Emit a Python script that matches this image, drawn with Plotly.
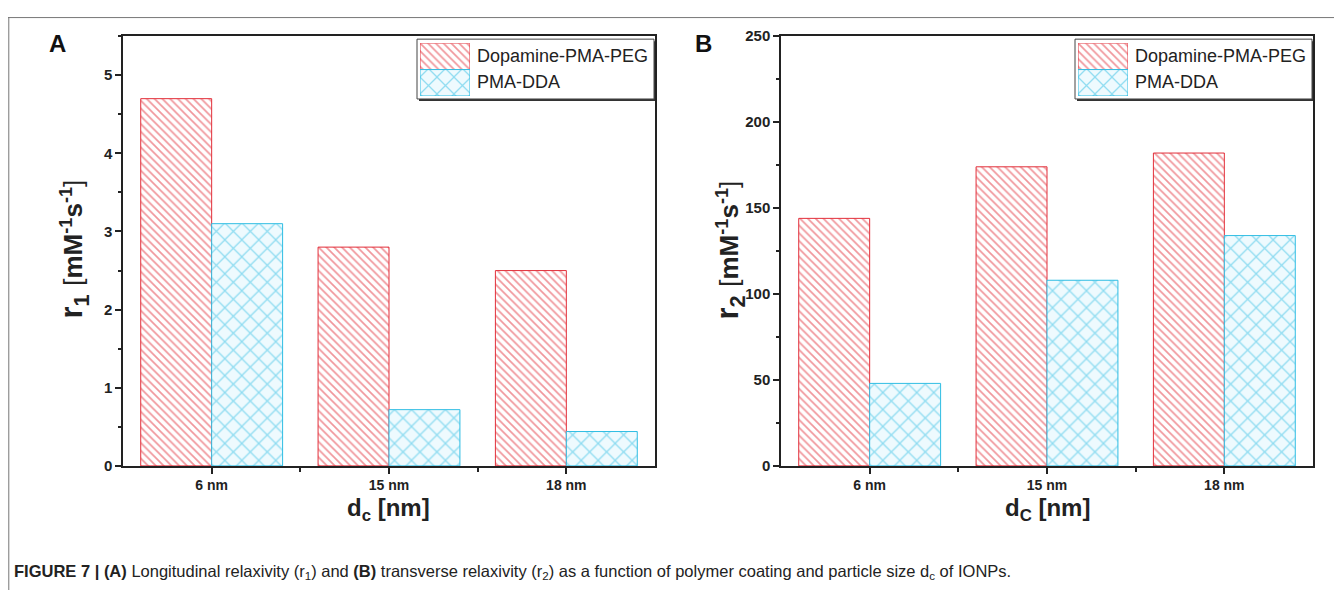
import plotly.graph_objects as go

# The page body has an 8px margin; size the figure so it fits the 1342x606 window exactly.
OFF = 8
W, H = 1342 - 2 * OFF, 606 - 2 * OFF

categories = ["6 nm", "15 nm", "18 nm"]
series_names = ["Dopamine-PMA-PEG", "PMA-DDA"]
r1_dopamine = [4.7, 2.8, 2.5]
r1_pmadda = [3.1, 0.72, 0.44]
r2_dopamine = [144, 174, 182]
r2_pmadda = [48, 108, 134]
r1_ticks = [0, 1, 2, 3, 4, 5]
r2_ticks = [0, 50, 100, 150, 200, 250]

RED = "#e22f3a"
CYAN = "#2fbde3"
FONT = "Liberation Sans, Arial, sans-serif"


def px_x(p):
    return max(0.0, (p - OFF) / W)


def px_y(p):
    # p: vertical page position measured on the reference layout
    t = (p - 8) / 0.974
    return min(1.0, 1 - (t - OFF) / H)


xpos = list(range(len(categories)))

fig = go.Figure()

styles = [
    dict(line=dict(color=RED, width=1),
         pattern=dict(shape="\\", fgcolor=RED, bgcolor="white", size=5.5, solidity=0.32)),
    dict(line=dict(color=CYAN, width=1),
         pattern=dict(shape="x", fgcolor=CYAN, bgcolor="#eefafe", size=12, solidity=0.2)),
]

panels = [
    dict(xa="x", ya="y", data=[r1_dopamine, r1_pmadda]),
    dict(xa="x2", ya="y2", data=[r2_dopamine, r2_pmadda]),
]
for p in panels:
    for name, vals, st in zip(series_names, p["data"], styles):
        fig.add_trace(go.Bar(x=xpos, y=vals, name=name, marker=dict(color="white", **st),
                             xaxis=p["xa"], yaxis=p["ya"], showlegend=False, hoverinfo="y"))

# custom legend swatches (large boxes like the original)
leg_axes = [("x3", "y3"), ("x4", "y4")]
for xa, ya in leg_axes:
    for i, (name, st) in enumerate(zip(series_names, styles)):
        fig.add_trace(go.Bar(x=[1], y=[len(series_names) - 1 - i], orientation="h", width=1,
                             marker=dict(color="white", **st), xaxis=xa, yaxis=ya,
                             showlegend=False, hoverinfo="skip"))

axis_common = dict(showline=True, linecolor="#222", linewidth=1.5, mirror=True,
                   ticks="outside", tickcolor="#222", tickwidth=1.5, ticklen=6,
                   showgrid=False, zeroline=False)
xfont = dict(family=FONT, size=14, color="#222", weight="bold")
yfont = dict(family=FONT, size=15, color="#222", weight="bold")

xdomA = [px_x(123), px_x(655)]
xdomB = [px_x(781), px_x(1313)]
ydom = [px_y(466), px_y(35)]

fig.update_layout(
    width=W, height=H, margin=dict(l=0, r=0, t=0, b=0),
    paper_bgcolor="white", plot_bgcolor="white",
    barmode="group", bargap=0.2, bargroupgap=0,
    showlegend=False,
    xaxis=dict(domain=xdomA, range=[-0.5, 2.5], tickvals=xpos, ticktext=categories, tickfont=xfont,
               minor=dict(tickvals=[0.5, 1.5], ticks="outside", ticklen=4, tickcolor="#222", tickwidth=1.5),
               anchor="y", **axis_common),
    yaxis=dict(domain=ydom, range=[0, 5.5], tickvals=r1_ticks, tickfont=yfont,
               minor=dict(dtick=0.5, ticks="outside", ticklen=3, tickcolor="#222", tickwidth=1.5),
               anchor="x", **axis_common),
    xaxis2=dict(domain=xdomB, range=[-0.5, 2.5], tickvals=xpos, ticktext=categories, tickfont=xfont,
                minor=dict(tickvals=[0.5, 1.5], ticks="outside", ticklen=4, tickcolor="#222", tickwidth=1.5),
                anchor="y2", **axis_common),
    yaxis2=dict(domain=ydom, range=[0, 250], tickvals=r2_ticks, tickfont=yfont,
                minor=dict(dtick=25, ticks="outside", ticklen=3, tickcolor="#222", tickwidth=1.5),
                anchor="x2", **axis_common),
)

leg_boxes = [(417, 655), (1075, 1313)]
for (xa, ya), (lx0, lx1) in zip(leg_axes, leg_boxes):
    n = xa[1:]
    fig.layout["xaxis" + n] = dict(domain=[px_x(lx0 + 3), px_x(lx0 + 53)], range=[0, 1], visible=False,
                                   anchor=ya)
    fig.layout["yaxis" + n] = dict(domain=[px_y(95), px_y(42)], range=[-0.5, 1.5], visible=False,
                                   anchor=xa)

shapes = []
# outer figure frame (top and left lines)
shapes.append(dict(type="line", xref="paper", yref="paper", x0=0, x1=1, y0=0.999, y1=0.999,
                   line=dict(color="#777", width=1)))
shapes.append(dict(type="line", xref="paper", yref="paper", x0=0.0006, x1=0.0006, y0=0, y1=1,
                   line=dict(color="#777", width=1)))
for lx0, lx1 in leg_boxes:
    shapes.append(dict(type="rect", xref="paper", yref="paper", layer="below",
                       x0=px_x(lx0 + 2), x1=px_x(lx1 + 1), y0=px_y(100), y1=px_y(40),
                       fillcolor="#333", line=dict(width=0)))
    shapes.append(dict(type="rect", xref="paper", yref="paper", layer="below",
                       x0=px_x(lx0), x1=px_x(lx1 - 1), y0=px_y(98), y1=px_y(38),
                       fillcolor="white", line=dict(color="#444", width=1)))
fig.update_layout(shapes=shapes)


def note(x, y, text, size, xanchor="center", angle=0, family=FONT, color="#222"):
    return dict(x=px_x(x), y=px_y(y), xref="paper", yref="paper", text=text, showarrow=False,
                xanchor=xanchor, yanchor="middle", textangle=angle,
                font=dict(family=family, size=size, color=color))


ann = []
for (lx0, lx1) in leg_boxes:
    for i, name in enumerate(series_names):
        ann.append(note(lx0 + 58, 55 + 26 * i, name, 18, xanchor="left"))
# panel letters
ann.append(note(57, 42, "<b>A</b>", 24, color="#111"))
ann.append(note(703, 42, "<b>B</b>", 24, color="#111"))
# axis titles
ann.append(note(389, 510, "<b>d<sub>c</sub> [nm]</b>", 24))
ann.append(note(1047, 510, "<b>d<sub>C</sub> [nm]</b>", 24))
ytitle = ('<b>r<sub>{}</sub></b> <span style="font-size:26px">[<b>mM<sup>-1</sup>'
          's<sup>-1</sup></b>]</span>')
ann.append(note(74, 249, ytitle.format(1), 31, angle=-90))
ann.append(note(730, 249, ytitle.format(2), 31, angle=-90))
# caption
ann.append(note(12, 572,
                "<b>FIGURE 7 | (A)</b> Longitudinal relaxivity (r<sub>1</sub>) and <b>(B)</b> transverse "
                "relaxivity (r<sub>2</sub>) as a function of polymer coating and particle size "
                "d<sub>c</sub> of IONPs.", 16.5, xanchor="left",
                family="Liberation Sans Narrow, Arial Narrow, Liberation Sans, sans-serif"))
fig.update_layout(annotations=ann)

fig.write_html("out.html")
